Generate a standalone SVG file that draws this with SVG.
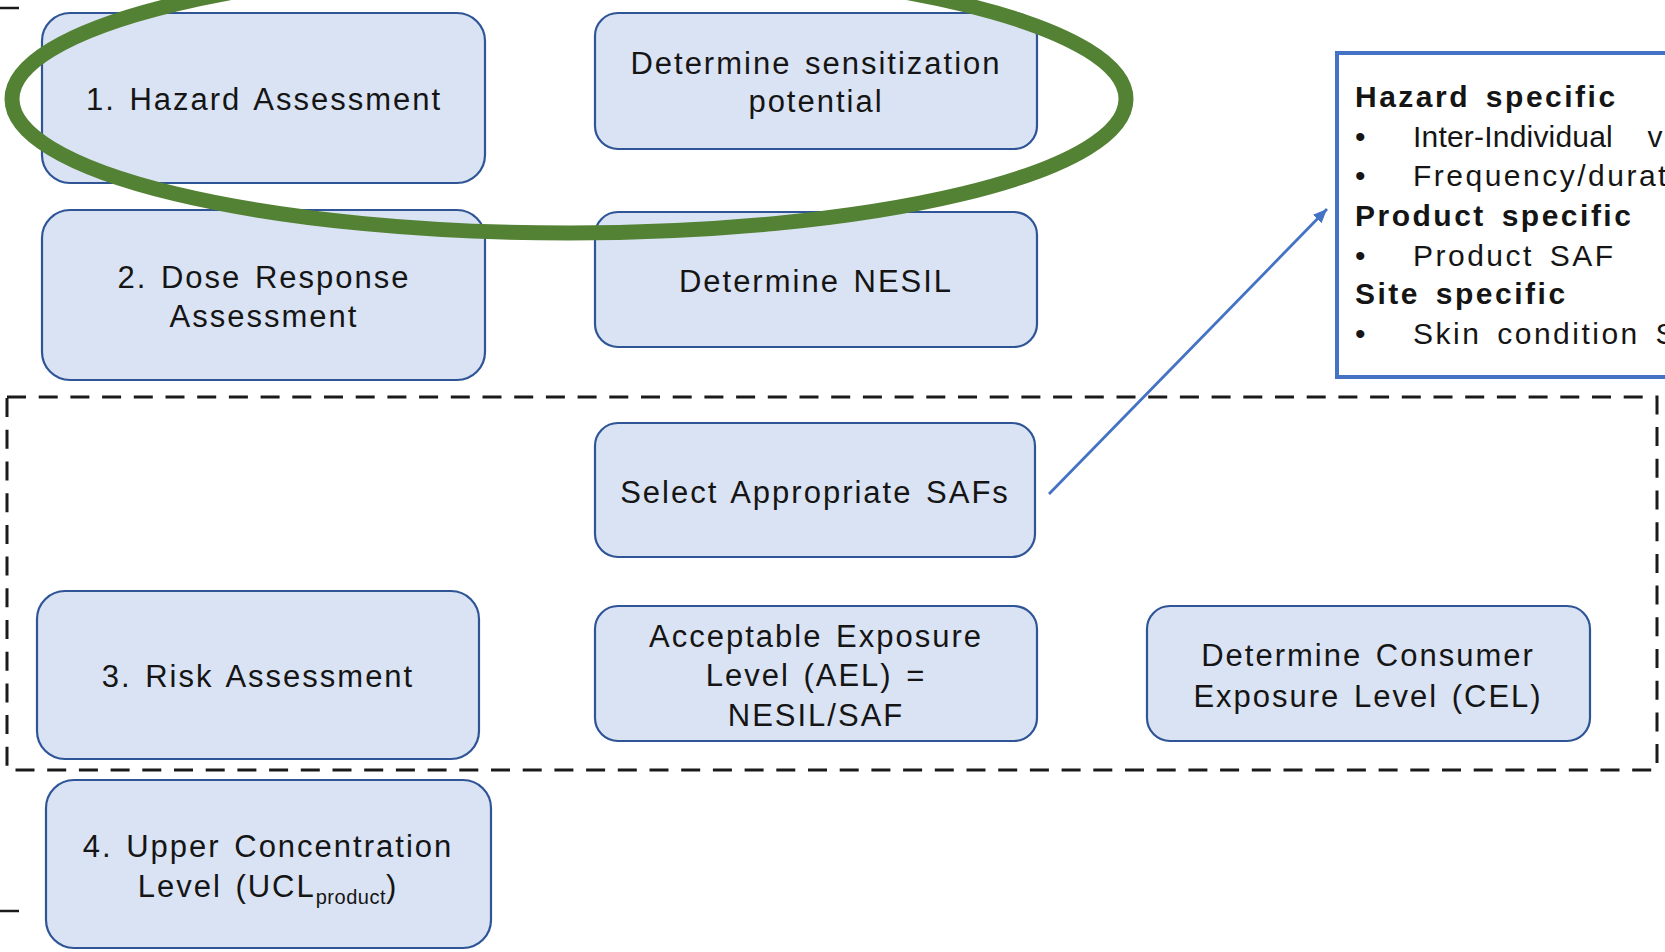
<svg xmlns="http://www.w3.org/2000/svg" width="1665" height="952" viewBox="0 0 1665 952">
<defs>
<style>
.box{fill:#DAE3F3;stroke:#2F5597;stroke-width:2.2}
.t{font-family:"Liberation Sans",Arial,sans-serif;font-size:31px;fill:#151515;text-anchor:middle;letter-spacing:2px;word-spacing:3px}
.sub{font-size:20px;letter-spacing:0.5px}
.i{font-family:"Liberation Sans",Arial,sans-serif;font-size:30px;fill:#151515;letter-spacing:2.5px;word-spacing:5px}
.ib{font-weight:bold}
.dash{fill:none;stroke:#1a1a1a;stroke-width:3;stroke-dasharray:19 12.7}
</style>
<marker id="ah" markerUnits="userSpaceOnUse" markerWidth="16" markerHeight="14" refX="14" refY="7" orient="auto">
<path d="M0,1 L14,7 L0,13 Z" fill="#4472C4"/>
</marker>
</defs>
<rect width="1665" height="952" fill="#ffffff"/>

<g id="frame">
<rect class="dash" x="7" y="397" width="1650" height="373"/>
<line x1="0" y1="8" x2="19" y2="8" stroke="#1a1a1a" stroke-width="2.5"/>
<line x1="0" y1="911" x2="19" y2="911" stroke="#1a1a1a" stroke-width="2.5"/>
</g>

<g id="info">
<rect x="1337" y="53" width="400" height="324" fill="#ffffff" stroke="#4472C4" stroke-width="4"/>
<text class="i ib" x="1355" y="107">Hazard specific</text>
<text class="i" x="1355" y="147">•</text>
<text class="i" x="1413" y="147" style="letter-spacing:0.2px;word-spacing:26px">Inter-Individual v</text>
<text class="i" x="1355" y="186">•</text>
<text class="i" x="1413" y="186">Frequency/durat</text>
<text class="i ib" x="1355" y="226">Product specific</text>
<text class="i" x="1355" y="266">•</text>
<text class="i" x="1413" y="266">Product SAF</text>
<text class="i ib" x="1355" y="304">Site specific</text>
<text class="i" x="1355" y="344">•</text>
<text class="i" x="1413" y="344">Skin condition S</text>
</g>

<g id="hazard">
<rect class="box" x="42" y="13" width="443" height="170" rx="28"/>
<text class="t" x="264" y="110">1. Hazard Assessment</text>
</g>
<g id="sensitization">
<rect class="box" x="595" y="13" width="442" height="136" rx="23"/>
<text class="t" x="816" y="74">Determine sensitization</text>
<text class="t" x="816" y="112">potential</text>
</g>
<g id="dose">
<rect class="box" x="42" y="210" width="443" height="170" rx="28"/>
<text class="t" x="264" y="288">2. Dose Response</text>
<text class="t" x="264" y="327">Assessment</text>
</g>
<g id="nesil">
<rect class="box" x="595" y="212" width="442" height="135" rx="23"/>
<text class="t" x="816" y="292">Determine NESIL</text>
</g>
<g id="safs">
<rect class="box" x="595" y="423" width="440" height="134" rx="23"/>
<text class="t" x="815" y="503">Select Appropriate SAFs</text>
</g>
<g id="risk">
<rect class="box" x="37" y="591" width="442" height="168" rx="28"/>
<text class="t" x="258" y="687">3. Risk Assessment</text>
</g>
<g id="ael">
<rect class="box" x="595" y="606" width="442" height="135" rx="23"/>
<text class="t" x="816" y="647">Acceptable Exposure</text>
<text class="t" x="816" y="686">Level (AEL) =</text>
<text class="t" x="816" y="726">NESIL/SAF</text>
</g>
<g id="cel">
<rect class="box" x="1147" y="606" width="443" height="135" rx="23"/>
<text class="t" x="1368" y="666">Determine Consumer</text>
<text class="t" x="1368" y="707">Exposure Level (CEL)</text>
</g>
<g id="ucl">
<rect class="box" x="46" y="780" width="445" height="168" rx="28"/>
<text class="t" x="268" y="857">4. Upper Concentration</text>
<text class="t" x="268" y="897">Level (UCL<tspan class="sub" dy="7">product</tspan><tspan dy="-7">)</tspan></text>
</g>

<g id="connectors">
<line x1="1049" y1="494" x2="1327" y2="209" stroke="#4472C4" stroke-width="2.8" marker-end="url(#ah)"/>
</g>

<g id="highlight">
<ellipse cx="569" cy="99" rx="557" ry="134" fill="none" stroke="#548235" stroke-width="15"/>
</g>
</svg>
